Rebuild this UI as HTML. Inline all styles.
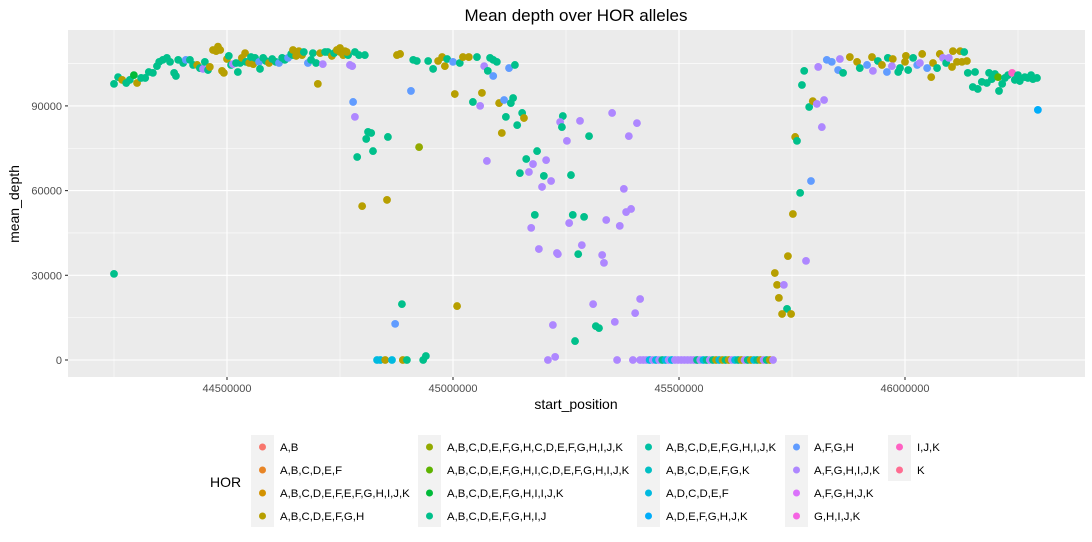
<!DOCTYPE html>
<html><head><meta charset="utf-8">
<style>
html,body{margin:0;padding:0;background:#fff;}
svg{display:block;font-family:"Liberation Sans",sans-serif;}
</style></head>
<body>
<svg id="chart" width="1092" height="542" viewBox="0 0 1092 542" xmlns="http://www.w3.org/2000/svg">
<rect x="0" y="0" width="1092" height="542" fill="#fff"/>
<text x="576" y="21" text-anchor="middle" font-size="17" fill="#000">Mean depth over HOR alleles</text>
<rect x="68" y="30" width="1017" height="347" fill="#ebebeb"/>
<g id="grid"></g>
<g id="points"></g>
<g id="axes"></g>
<text x="576" y="409" text-anchor="middle" font-size="14" fill="#000">start_position</text>
<text transform="translate(19,204) rotate(-90)" text-anchor="middle" font-size="14" fill="#000">mean_depth</text>
<text x="210" y="487" font-size="14" fill="#000">HOR</text>
<g id="legend"></g>
</svg>
<script>
const horNames = ["A,B","A,B,C,D,E,F","A,B,C,D,E,F,E,F,G,H,I,J,K","A,B,C,D,E,F,G,H","A,B,C,D,E,F,G,H,C,D,E,F,G,H,I,J,K","A,B,C,D,E,F,G,H,I,C,D,E,F,G,H,I,J,K","A,B,C,D,E,F,G,H,I,I,J,K","A,B,C,D,E,F,G,H,I,J","A,B,C,D,E,F,G,H,I,J,K","A,B,C,D,E,F,G,K","A,D,C,D,E,F","A,D,E,F,G,H,J,K","A,F,G,H","A,F,G,H,I,J,K","A,F,G,H,J,K","G,H,I,J,K","I,J,K","K"];
const horColors = ["#F8766D","#E88526","#D39200","#B79F00","#93AA00","#5EB300","#00BA38","#00C08B","#00C1A3","#00BFC4","#00BAE0","#00ADFA","#619CFF","#AE87FF","#DB72FB","#F564E3","#FF61C3","#FF6C91"];
const xTicks = [44500000,45000000,45500000,46000000];
const xTickLabels = ["44500000","45000000","45500000","46000000"];
const yTicks = [0,30000,60000,90000];
const yTickLabels = ["0","30000","60000","90000"];
// start positions in kb, depth in thousands
const starts = [44250,44259,44268,44277,44285,44294,44301,44310,44319,44327,44336,44345,44350,44358,44367,44374,44383,44387,44392,44403,44409,44418,44425,44434,44440,44447,44451,44458,44462,44469,44476,44480,44485,44489,44493,44500,44504,44509,44513,44520,44524,44529,44533,44540,44542,44549,44553,44558,44562,44571,44573,44580,44586,44593,44600,44608,44615,44622,44628,44635,44642,44646,44653,44659,44666,44670,44679,44686,44690,44697,44706,44712,44717,44723,44732,44737,44743,44750,44757,44761,44768,44772,44783,44792,44805,
44646,44750,44765,44777,44250,
44701,44907,44779,44783,44812,44819,44808,44856,44823,44925,44788,44854,44799,44887,45009,44872,44832,44839,44850,44865,44889,44898,44934,44940,
45004,45064,45044,45060,45102,45113,45128,45133,45153,45157,45117,45142,45108,45186,45162,45177,45206,45148,45168,45201,45217,45197,45075,45181,45173,45190,45230,45221,45210,45226,
44876,44883,44912,44920,44945,44956,44967,44976,44982,44987,45000,45015,45022,45035,45053,45069,45082,45089,45097,45077,45089,45124,45137,
45243,45237,45241,45281,45352,45407,45301,45389,45252,45261,45378,45265,45290,45257,45339,45369,45383,45394,45285,45232,45277,45330,45334,45310,45414,45403,45316,45323,45358,45270,45363,45398,
45414,45421,45428,45435,45442,45449,45456,45463,45470,45477,45484,45491,45498,45505,45512,45519,45526,45533,45540,45547,45554,45561,45568,45575,45582,45589,45596,45603,45610,45617,45624,45631,45638,45645,45652,45659,45666,45673,45680,45687,45694,45701,45708,
45712,45717,45732,45721,45739,45728,45748,45741,45781,45752,45768,45792,45757,45761,45772,45777,45788,45796,45805,45821,45816,45808,45827,45838,45852,45863,45856,45878,45894,45900,45916,45927,45929,45940,45949,45960,45962,45973,45971,45985,45989,46002,46000,46007,46018,46027,46038,46033,46049,46058,46062,46071,46077,46084,46091,46097,46104,46106,46115,46122,46131,46126,46137,46139,46155,46150,46161,46170,46181,46186,46192,46199,46206,46208,46215,46221,46228,46237,46243,46250,46254,46265,46272,46279,46283,46292,46294];
const depths = [97.8,100.2,99.2,98.1,99.2,100.9,98.1,99.9,99.9,102.0,101.7,104.1,105.6,106.3,107.0,105.6,101.7,100.6,106.3,105.2,106.3,106.3,104.5,104.5,103.4,103.1,105.6,102.7,103.8,109.8,109.4,111.0,109.8,102.4,101.7,106.6,107.7,104.5,104.8,105.2,102.0,105.2,107.0,108.7,105.6,105.2,107.3,104.8,107.0,105.6,103.1,107.0,105.9,105.2,106.6,105.6,105.2,107.0,106.3,107.0,108.4,108.0,107.7,109.4,108.0,109.1,105.2,106.3,108.7,105.2,108.7,104.8,109.1,109.1,107.7,108.7,109.8,109.1,108.0,109.4,108.0,104.5,109.1,108.0,108.0,
109.8,110.5,109.1,104.1,30.5,
97.8,95.3,91.4,86.1,80.8,80.4,78.3,79.0,74.0,75.4,71.9,56.7,54.5,19.8,19.1,12.8,0,0,0,0,0,0,0,1.4,
94.2,94.6,91.4,90.0,91.0,92.1,91.0,92.8,87.5,85.7,86.1,83.2,80.4,74.0,71.2,69.4,70.8,66.2,66.6,65.2,63.4,61.3,70.5,51.4,46.8,39.3,37.9,12.4,0,1.1,
108.0,108.4,106.3,105.9,105.9,103.1,105.9,107.3,104.1,106.6,105.6,105.2,107.3,107.3,107.3,104.1,107.0,106.3,105.6,102.4,100.6,103.4,104.5,
86.4,84.3,82.5,84.7,87.5,83.9,79.3,79.3,77.6,65.5,60.6,51.4,50.7,48.5,49.6,47.5,52.4,53.5,40.7,37.5,37.5,37.2,34.4,19.8,21.6,16.6,12.0,11.3,13.5,6.7,0,0,
0,0,0,0,0,0,0,0,0,0,0,0,0,0,0,0,0,0,0,0,0,0,0,0,0,0,0,0,0,0,0,0,0,0,0,0,0,0,0,0,0,0,0,
30.8,26.6,26.6,22.0,18.1,16.3,16.3,36.8,35.1,51.7,59.2,63.4,79.0,77.6,97.4,102.4,89.6,91.7,90.7,92.1,82.5,103.8,106.3,105.6,102.7,101.7,106.6,107.3,105.6,103.4,104.5,107.3,102.4,105.9,104.5,102.0,107.0,106.6,104.1,102.0,103.4,107.7,105.6,102.7,107.0,104.5,108.4,105.2,103.4,100.2,105.2,103.4,108.4,107.0,105.2,107.0,103.8,109.4,105.6,109.4,109.1,105.6,105.9,101.7,102.0,96.7,96.0,98.5,98.1,101.7,99.5,101.3,100.2,95.3,97.8,99.9,100.9,101.7,99.2,100.9,98.8,100.2,99.9,100.9,99.5,99.9,88.6];
const hors = [7,7,3,7,7,6,3,7,7,7,7,7,7,7,7,7,7,7,7,7,12,7,7,3,7,13,7,7,3,3,3,3,3,3,3,3,7,7,13,7,7,7,3,3,7,3,7,3,7,12,7,7,7,3,7,7,12,7,7,12,7,7,3,3,3,7,12,7,7,7,3,13,7,7,3,7,3,3,3,3,7,13,7,7,7,
3,3,3,13,7,
3,12,12,13,7,7,7,7,7,4,7,3,3,7,3,12,10,10,3,10,3,7,7,7,
3,3,7,13,3,12,7,7,7,3,7,7,3,7,7,13,13,7,13,7,13,13,13,7,13,13,13,13,13,13,
3,3,7,7,7,7,3,3,3,7,12,7,3,3,7,13,7,7,7,7,12,12,7,
7,13,7,13,13,13,7,13,13,7,13,7,7,13,13,13,13,13,13,13,7,13,13,13,13,13,7,7,13,7,13,13,
13,13,13,10,13,10,13,7,10,13,10,13,13,13,13,13,13,13,7,13,10,7,13,7,3,10,3,7,3,13,10,7,3,13,7,3,10,7,3,13,7,3,13,
3,3,13,3,7,3,3,3,13,3,7,12,3,7,7,7,7,3,13,13,13,13,12,12,12,7,13,3,3,7,12,3,13,7,3,12,7,3,13,7,7,3,3,7,7,12,3,13,12,3,3,7,3,13,7,13,3,3,3,3,7,3,3,7,7,7,7,7,7,7,7,7,5,7,7,7,7,16,7,7,7,7,7,7,7,7,11];

const NS="http://www.w3.org/2000/svg";
const L=68,R=1085,T=30,B=377;
function xs(v){return 227+(v-44500000)/500000*226;}
function ys(v){return 360-v/30000*84.7;}
const grid=document.getElementById('grid');
const axes=document.getElementById('axes');
function mk(tag,attrs,parent){const e=document.createElementNS(NS,tag);for(const k in attrs)e.setAttribute(k,attrs[k]);parent.appendChild(e);return e;}
for(let i=-1;i<xTicks.length;i++){
  const v=xTicks[0]+250000+i*500000; const x=xs(v);
  if(x>L&&x<R){const ln=mk('line',{x1:x,x2:x,y1:T,y2:B,stroke:'#fff','stroke-width':0.55},grid);
  
  }
}
for(let i=0;i<yTicks.length;i++){
  const v=yTicks[i]+15000; const y=ys(v);
  if(y>T&&y<B){const ln=mk('line',{x1:L,x2:R,y1:y,y2:y,stroke:'#fff','stroke-width':0.55},grid);
  
  }
}
xTicks.forEach((v,i)=>{
  const x=xs(v);
  const ln=mk('line',{x1:x,x2:x,y1:T,y2:B,stroke:'#fff','stroke-width':1.1},grid);
  
  
  const tk=mk('line',{x1:x,x2:x,y1:B,y2:B+3,stroke:'#333','stroke-width':1.1},axes);
  
  
  const t=mk('text',{x:x,y:B+15,'text-anchor':'middle','font-size':11,fill:'#4d4d4d'},axes);
  t.textContent=xTickLabels[i];
  
  
});
yTicks.forEach((v,i)=>{
  const y=ys(v);
  const ln=mk('line',{x1:L,x2:R,y1:y,y2:y,stroke:'#fff','stroke-width':1.1},grid);
  
  
  const tk=mk('line',{x1:L-3,x2:L,y1:y,y2:y,stroke:'#333','stroke-width':1.1},axes);
  
  
  const t=mk('text',{x:L-6,y:y+4,'text-anchor':'end','font-size':11,fill:'#4d4d4d'},axes);
  t.textContent=yTickLabels[i];
  
  
});
const pts=document.getElementById('points');
for(let i=0;i<starts.length;i++){
  const c=mk('circle',{cx:xs(starts[i]*1000),cy:ys(depths[i]*1000),r:3.9,fill:horColors[hors[i]]},pts);
  
  
}
const leg=document.getElementById('legend');
const colX=[251,418,637,785,888];
const rowY=[447,470,493,516];
const perCol=[4,4,4,4,2];
let idx=0;
colX.forEach((cx,ci)=>{
  const n=perCol[ci];
  const bg=mk('rect',{x:cx,y:rowY[0]-12,width:23,height:n*23,fill:'#f2f2f2'},leg);
  
  
  for(let r=0;r<n;r++){
    const d=mk('circle',{cx:cx+11.5,cy:rowY[r],r:3.5,fill:horColors[idx]},leg);
    
    
    const t=mk('text',{x:cx+29,y:rowY[r]+4,'font-size':11.4,fill:'#000'},leg);
    t.textContent=horNames[idx];
    
    
    idx++;
  }
});
</script>
</body></html>
